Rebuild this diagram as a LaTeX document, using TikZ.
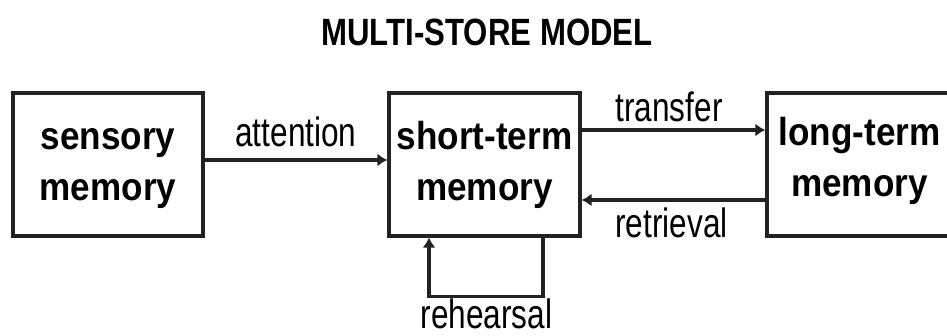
\documentclass[tikz,border=0pt]{standalone}
\usepackage{fontspec}
\setmainfont{Liberation Sans}
\newfontfamily\titlefont[FakeStretch=0.82]{Liberation Sans}
\newfontfamily\labfont[FakeStretch=0.77]{Liberation Sans}
\newfontfamily\boxfont[FakeStretch=0.9]{Liberation Sans}
\usetikzlibrary{arrows.meta,calc}
\newcommand\tstrut{\rule{0pt}{36pt}}
\newcommand\bstrut[1]{\rule[-#1]{0pt}{0pt}}
\definecolor{ink}{HTML}{222222}
\tikzset{
  store/.style={draw=ink, line width=3.2pt, minimum height=143pt, inner sep=0pt,
    align=center, font=\boxfont\bfseries\fontsize{39}{51}\selectfont, text=black},
  lab/.style={anchor=base, inner sep=0pt, font=\labfont\fontsize{41}{48}\selectfont, text=black},
  conn/.style={draw=ink, line width=3.2pt, -{Latex[length=10pt,width=13pt]}}
}
\begin{document}
\begin{tikzpicture}[x=1pt,y=-1pt]
\useasboundingbox (0,0) rectangle (947,336);
\clip (0,0) rectangle (947,336);
\node[anchor=base, inner sep=0pt, font=\titlefont\bfseries\fontsize{38}{44}\selectfont] (title) at (487,46) {MULTI-STORE MODEL};
\node[store, minimum width=190pt] (sm) at (108,164.5) {\tstrut sensory\\memory\bstrut{15pt}};
\node[store, minimum width=191pt] (stm) at (484.5,164.5) {\tstrut short-term\\memory\bstrut{15pt}};
\node[store, minimum width=185pt] (ltm) at (859.5,164.5) {\tstrut long-term\\memory\bstrut{23pt}};
\draw[conn] ($(sm.east)+(0,-4.5)$) -- ($(stm.west)+(0,-4.5)$);
\draw[conn] ($(stm.east)+(0,-34.5)$) -- ($(ltm.west)+(0,-34.5)$);
\draw[conn] ($(ltm.west)+(0,35.5)$) -- ($(stm.east)+(0,35.5)$);
\draw[conn] ($(stm.south)+(58.5,0)$) -- ++(0,59) -| ($(stm.south)+(-55.5,0)$);
\node[lab] (att) at (296,147) {attention};
\node[lab] (tr) at (669,122) {transfer};
\node[lab] (ret) at (671.5,238) {retrieval};
\node[lab] (reh) at (486.5,328) {rehearsal};
\end{tikzpicture}
\end{document}
